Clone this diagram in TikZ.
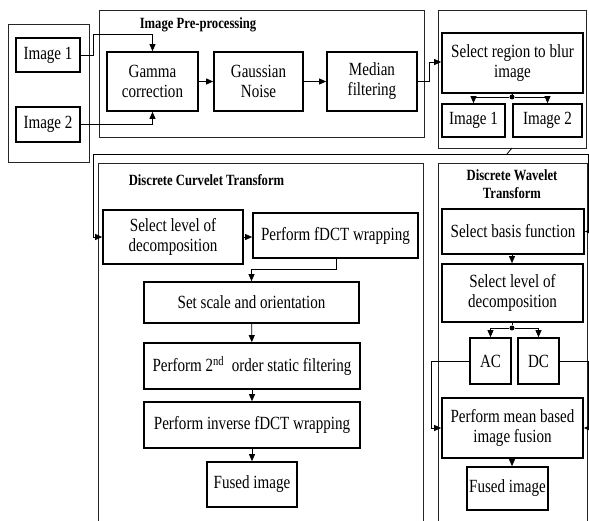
\documentclass[tikz,border=0pt]{standalone}
\usepackage{fontspec}
\setmainfont[FakeStretch=0.81]{Liberation Serif}
\usetikzlibrary{arrows.meta}
\begin{document}
\begin{tikzpicture}[x=1pt,y=-1pt,
  box/.style={draw, line width=1.7pt, align=center, inner sep=0pt, font=\fontsize{18.6}{20}\selectfont},
  grp/.style={draw=black!85, line width=0.8pt},
  ttl/.style={font=\bfseries\fontsize{15.6}{18}\selectfont, inner sep=0pt, align=center},
  conn/.style={line width=0.8pt},
  arr/.style={conn, -{Triangle[length=7pt,width=6pt]}},
  dotn/.style={circle, fill, inner sep=0pt, minimum size=5pt}
]
\useasboundingbox (0,0) rectangle (589,521);
% group boxes
\draw[grp] (8,24) rectangle (89,162);
\draw[grp] (99,10) rectangle (424,137);
\draw[grp] (438,10) rectangle (586,148);
\coordinate (grpRb) at (512,148);
\draw[grp] (98,521) -- (98,163) -- (423,163) -- (423,521);
\draw[grp] (438,521) -- (438,163) -- (587,163) -- (587,521);
% titles
\node[ttl] (t1) at (198,25) {Image Pre-processing};
\node[ttl] (t2) at (206.5,180) {Discrete Curvelet Transform};
\node[ttl] (t3) at (512,184) {Discrete Wavelet\\Transform};
% top row
\node[box, minimum width=64pt, minimum height=34pt] (img1L) at (48,55) {Image 1};
\node[box, minimum width=64pt, minimum height=35pt] (img2L) at (48,124.5) {Image 2};
\node[box, minimum width=91pt, minimum height=59pt] (gamma) at (152.5,81.5) {Gamma\\correction};
\node[box, minimum width=89pt, minimum height=59pt] (gauss) at (258.5,81.5) {Gaussian\\Noise};
\node[box, minimum width=90pt, minimum height=59pt] (median) at (372,81.5) {Median\\filtering};
\node[box, minimum width=141pt, minimum height=60pt] (sel) at (512.5,63) {Select region to blur\\image};
\node[box, minimum width=63pt, minimum height=33pt] (img1R) at (473.5,120.5) {Image 1};
\node[box, minimum width=69pt, minimum height=33pt] (img2R) at (547.5,120.5) {Image 2};
\node[dotn] (d1) at (512,97) {};
% curvelet
\node[box, minimum width=140pt, minimum height=54pt] (selC) at (173,237) {Select level of\\decomposition};
\node[box, minimum width=165pt, minimum height=45pt] (fdct) at (335.5,235.5) {Perform fDCT wrapping};
\node[box, minimum width=215pt, minimum height=41pt] (scale) at (251.5,302.5) {Set scale and orientation};
\node[box, minimum width=216pt, minimum height=46pt] (ord) at (252,366) {Perform 2\textsuperscript{nd}\ \ order static filtering};
\node[box, minimum width=216pt, minimum height=46pt] (inv) at (252,425) {Perform inverse fDCT wrapping};
\node[box, minimum width=90pt, minimum height=45pt] (fusC) at (252,484.5) {Fused image};
% wavelet
\node[box, minimum width=142pt, minimum height=45pt] (basis) at (513,231.5) {Select basis function};
\node[box, minimum width=141pt, minimum height=58pt] (selW) at (512.5,293) {Select level of\\decomposition};
\node[dotn] (d2) at (512,328) {};
\node[box, minimum width=41pt, minimum height=46pt] (ac) at (490.5,361) {AC};
\node[box, minimum width=41pt, minimum height=46pt] (dc) at (538.5,361) {DC};
\node[box, minimum width=141pt, minimum height=60pt] (mean) at (512.5,428) {Perform mean based\\image fusion};
\node[box, minimum width=81pt, minimum height=43pt] (fusW) at (507.5,488.5) {Fused image};
% connectors top
\coordinate (c1) at (93,34);
\draw[arr] (img1L.east) -| (c1) -| (gamma.north);
\draw[arr] (img2L.east) -| (gamma.south);
\draw[arr] (gamma) -- (gauss);
\draw[arr] (gauss) -- (median);
\coordinate (c2) at (429,62);
\draw[arr] (median.east) -| (c2) -- (sel.west |- c2);
\draw[conn] (sel.south -| d1) -- (d1);
\draw[arr] (d1) -| (img1R.north);
\draw[arr] (d1) -| (img2R.north);
% to transforms
\coordinate (j) at (507,154);
\coordinate (cL) at (93,154);
\coordinate (cR) at (588,154);
\draw[conn] (grpRb) -- (j);
\draw[arr] (j) -- (cL) |- (selC.west);
\draw[arr] (j) -- (cR) |- (basis.east);
% curvelet flow
\draw[arr] (selC.east) -- (fdct.west |- selC.east);
\coordinate (c3) at (336,269);
\draw[arr] (fdct.south -| c3) -- (c3) -| (scale.north);
\draw[arr] (scale) -- (ord);
\draw[arr] (ord) -- (inv);
\draw[arr] (inv) -- (fusC);
% wavelet flow
\draw[arr] (basis.south -| 512,0) -- (selW.north -| 512,0);
\draw[conn] (selW.south -| d2) -- (d2);
\draw[arr] (d2) -| (ac.north);
\draw[arr] (d2) -| (dc.north);
\coordinate (c4) at (431,361);
\coordinate (c5) at (588,361);
\draw[arr] (ac.west) -- (c4) |- (mean.west);
\draw[arr] (dc.east) -- (c5) |- (mean.east);
\draw[arr] (mean.south -| 512,0) -- (fusW.north -| 512,0);
\end{tikzpicture}
\end{document}
